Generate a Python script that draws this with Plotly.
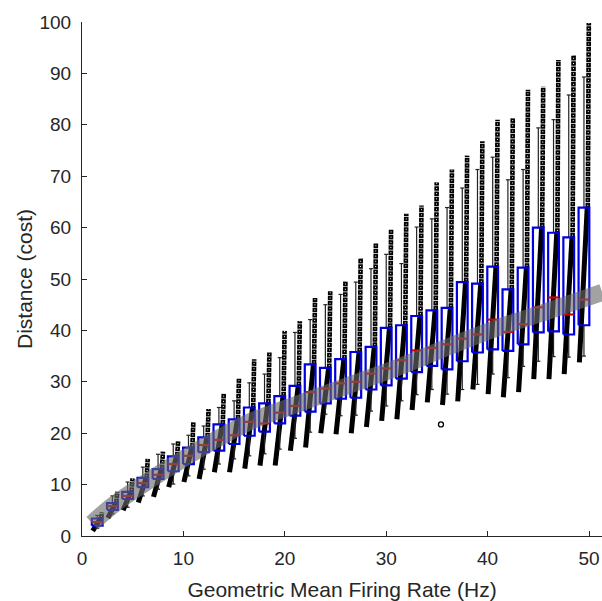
import plotly.graph_objects as go

# bin centres (Hz)
positions = [1.5, 3.0, 4.5, 6.0, 7.5, 9.0, 10.5, 12.0, 13.5, 15.0, 16.5,
             18.0, 19.5, 21.0, 22.5, 24.0, 25.5, 27.0, 28.5, 30.0, 31.5,
             33.0, 34.5, 36.0, 37.5, 39.0, 40.5, 42.0, 43.5, 45.0, 46.5,
             48.0, 49.5]

# box statistics per bin (distance / cost)
q1 = [2.0, 5.1, 7.2, 9.5, 11.1, 12.6, 14.0, 16.3, 16.6, 17.9, 19.5,
      20.3, 21.9, 23.4, 24.2, 25.8, 26.7, 26.9, 28.5, 29.3, 30.6,
      31.9, 33.1, 32.4, 34.0, 35.7, 36.3, 36.0, 37.3, 39.6, 39.8,
      39.2, 41.0]
med = [2.7, 5.8, 7.8, 10.3, 11.9, 14.0, 15.6, 17.7, 18.7, 19.6, 22.2,
       21.9, 24.0, 25.3, 28.0, 28.7, 29.7, 30.0, 31.6, 32.6, 34.2,
       36.1, 36.6, 37.3, 38.4, 39.2, 42.1, 39.7, 41.2, 44.5, 46.4,
       43.1, 46.0]
q3 = [3.4, 6.4, 8.6, 11.3, 13.0, 15.5, 17.2, 19.2, 21.7, 22.7, 25.0,
      25.8, 27.2, 29.2, 33.4, 32.7, 34.4, 35.8, 36.8, 40.5, 41.0,
      42.8, 43.9, 44.4, 49.4, 49.1, 52.4, 48.0, 52.2, 60.0, 59.0,
      58.1, 63.9]
whisk_lo = [1.5, 4.3, 5.6, 7.8, 9.1, 10.1, 11.7, 13.0, 14.0, 15.0, 15.6,
            16.0, 16.9, 19.0, 20.2, 23.7, 23.4, 23.5, 24.3, 25.3, 26.3,
            27.5, 28.5, 27.6, 28.5, 29.5, 31.5, 30.8, 33.0, 34.0, 34.9,
            34.8, 35.0]
whisk_hi = [4.0, 7.8, 10.5, 13.4, 15.9, 17.9, 19.6, 21.4, 25.0, 26.3, 29.8,
            31.5, 34.7, 39.6, 42.1, 45.0, 47.0, 49.4, 52.0, 54.8, 53.0,
            60.1, 61.7, 63.9, 67.7, 71.3, 73.7, 69.3, 71.3, 79.4, 81.0,
            85.8, 89.3]
# extent of the individual points in each bin
pts_lo = [1.0, 3.5, 5.0, 6.5, 7.6, 9.5, 10.5, 11.1, 12.4, 12.4, 13.1,
          13.7, 13.7, 16.6, 17.2, 20.0, 19.8, 20.0, 21.2, 22.4, 22.7,
          24.5, 26.0, 25.5, 26.2, 28.5, 27.6, 27.0, 28.0, 30.5, 30.5,
          31.5, 33.8]
pts_hi = [4.6, 8.6, 11.2, 15.0, 16.4, 18.5, 22.1, 24.7, 27.8, 30.6, 34.4,
          35.7, 39.9, 41.8, 46.3, 47.6, 49.6, 54.1, 57.0, 59.7, 62.7,
          64.3, 68.8, 71.3, 74.0, 76.8, 81.0, 81.3, 86.8, 87.4, 92.6,
          93.6, 99.8]
lone_x = [35.4]
lone_y = [21.7]

# fitted trend
fit_x = [1.0, 3, 6, 9, 12, 16.5, 21, 26, 31, 36, 41, 46, 51.3]
fit_y = [2.5, 5.9, 10.0, 13.8, 17.4, 22.2, 25.5, 29.1, 32.7, 36.7, 40.5, 43.8, 47.4]

hw = 0.53   # half box width
cap = 0.2

sx, sy, cx, cy = [], [], [], []
wx, wy, bx, by, mx, my = [], [], [], [], [], []
for i, p in enumerate(positions):
    # dense diagonal streak of points, then column of sparse points above
    sx += [p - 0.45, p + 0.32, None]
    sy += [pts_lo[i], q3[i], None]
    cx += [p + 0.38, p + 0.48, None]
    cy += [q3[i], pts_hi[i], None]
    # whiskers and caps
    wx += [p, p, None, p - cap, p + cap, None, p, p, None, p - cap, p + cap, None]
    wy += [q3[i], whisk_hi[i], None, whisk_hi[i], whisk_hi[i], None,
           q1[i], whisk_lo[i], None, whisk_lo[i], whisk_lo[i], None]
    bx += [p - hw, p + hw, p + hw, p - hw, p - hw, None]
    by += [q1[i], q1[i], q3[i], q3[i], q1[i], None]
    mx += [p - hw, p + hw, None]
    my += [med[i], med[i], None]

fig = go.Figure()
fig.add_trace(go.Scatter(x=sx, y=sy, mode='lines', line=dict(color='black', width=5),
                         hoverinfo='skip'))
# column of open circles: dark rings with light centres
fig.add_trace(go.Scatter(x=cx, y=cy, mode='lines',
                         line=dict(color='black', width=4.6, dash='4.5px,0.7px'),
                         hoverinfo='skip'))
fig.add_trace(go.Scatter(x=cx, y=cy, mode='lines',
                         line=dict(color='white', width=1.0, dash='0px,1.8px,1.0px,2.4px'),
                         hoverinfo='skip'))
fig.add_trace(go.Scatter(x=lone_x, y=lone_y, mode='markers',
                         marker=dict(symbol='circle-open', color='black', size=5,
                                     line=dict(width=1.3))))
fig.add_trace(go.Scatter(x=wx, y=wy, mode='lines', line=dict(color='#222222', width=1.2),
                         hoverinfo='skip'))
fig.add_trace(go.Scatter(x=bx, y=by, mode='lines', line=dict(color='#0000e0', width=2.2),
                         hoverinfo='skip'))
fig.add_trace(go.Scatter(x=mx, y=my, mode='lines', line=dict(color='#d00000', width=2.2),
                         hoverinfo='skip'))
fig.add_trace(go.Scatter(x=fit_x, y=fit_y, mode='lines', line_shape='spline',
                         line=dict(color='rgba(105,105,105,0.62)', width=17),
                         hoverinfo='skip'))

axis_font = dict(family='Liberation Sans, Arial, sans-serif', size=19, color='#262626')
title_font = dict(family='Liberation Sans, Arial, sans-serif', size=21, color='#262626')

fig.update_layout(
    width=602, height=601,
    showlegend=False,
    plot_bgcolor='white', paper_bgcolor='white',
    margin=dict(l=82, r=0, t=22, b=65),
    xaxis=dict(range=[0, 51.28], tickvals=[0, 10, 20, 30, 40, 50],
               showline=True, linecolor='#262626', linewidth=1,
               ticks='inside', ticklen=5, tickcolor='#262626',
               showgrid=False, zeroline=False, tickfont=axis_font,
               ticklabelstandoff=5, automargin=False,
               title=dict(text='Geometric Mean Firing Rate (Hz)', font=title_font, standoff=21)),
    yaxis=dict(range=[0, 100], tickvals=list(range(0, 101, 10)),
               showline=True, linecolor='#262626', linewidth=1,
               ticks='inside', ticklen=5, tickcolor='#262626',
               showgrid=False, zeroline=False, tickfont=axis_font,
               ticklabelstandoff=6, automargin=False,
               title=dict(text='Distance (cost)', font=title_font, standoff=1)),
)

# page body has a default 8px margin, drop it so the figure sits at the corner
fig.write_html("out.html", config={'displayModeBar': False},
               post_script="document.body.style.margin='0px';")
